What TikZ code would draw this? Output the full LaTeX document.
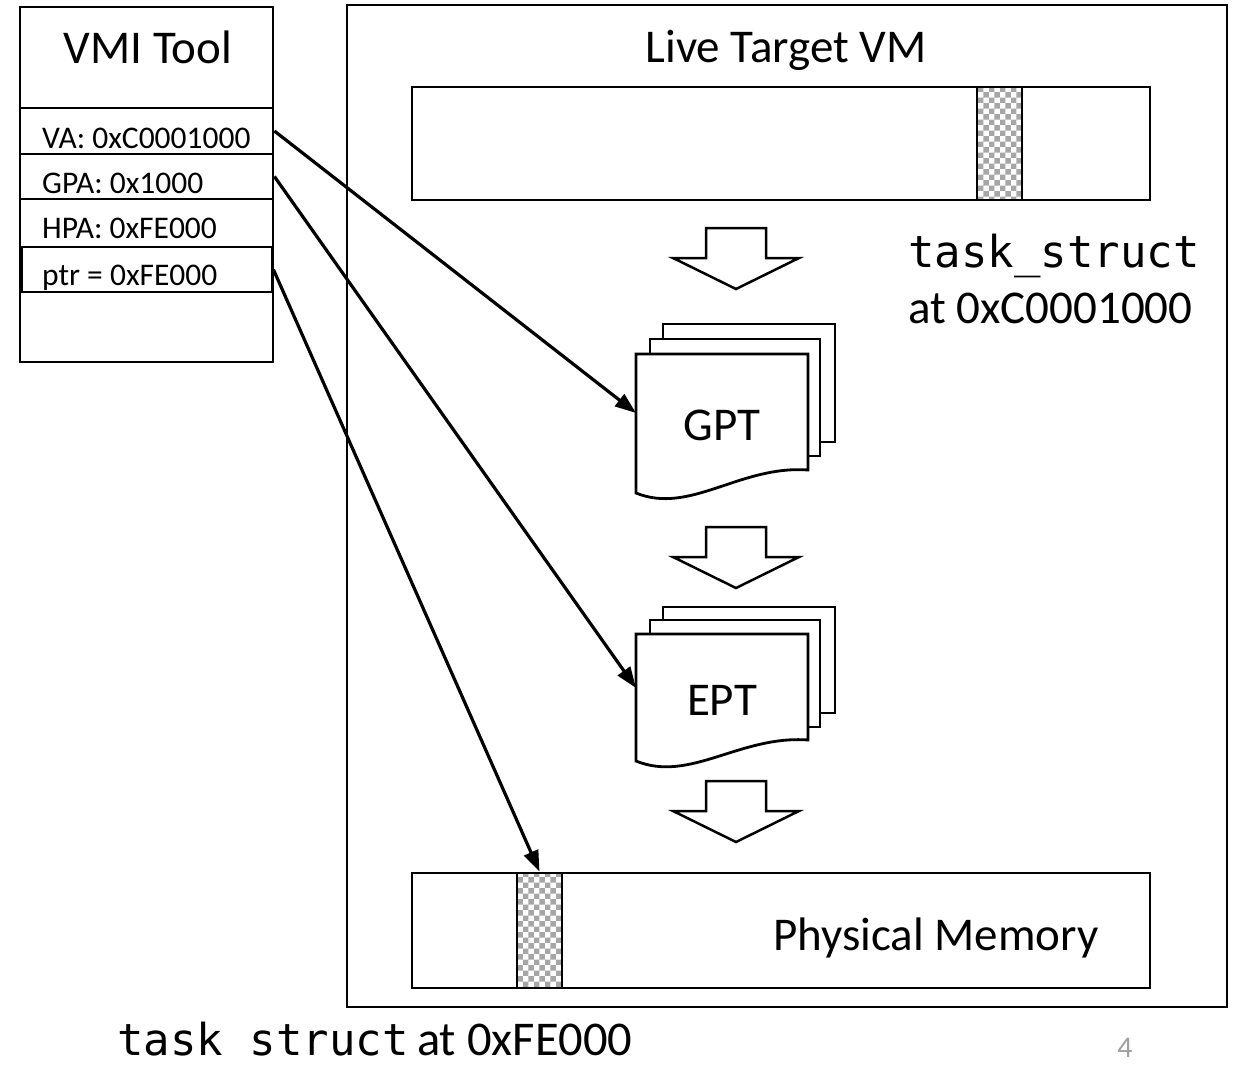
\documentclass[tikz,border=0pt]{standalone}
\usepackage{fontspec}
\setmainfont{Carlito}
\newfontfamily\codefont{DejaVu Sans Mono}
\usetikzlibrary{arrows.meta,patterns}

\tikzset{
  box/.style={draw,line width=2.8pt,fill=white,inner sep=0pt},
  rowbox/.style={box,minimum height=#1},
  hatch/.style={draw,line width=2.8pt,pattern=checkerboard,pattern color=gray!70,inner sep=0pt},
  page/.style={draw,line width=2.8pt,fill=white,line join=miter},
  title/.style={font=\fontsize{47}{56}\selectfont,anchor=base,inner sep=0pt},
  rowtext/.style={font=\fontsize{31.5}{37}\selectfont,anchor=base west,inner sep=0pt},
  code/.style={font=\codefont\fontsize{44}{52}\selectfont,anchor=base west,inner sep=0pt,text depth=0pt},
  plain/.style={font=\fontsize{47}{56}\selectfont,anchor=base west,inner sep=0pt,text depth=0pt},
  link/.style={line width=3.2pt,-{Triangle[length=21pt,width=15pt]}},
  downarr/.pic={
    \draw[line width=2.5pt,fill=white,line join=miter]
      (-30,0) -- (30,0) -- (30,30) -- (63,30) -- (0,61) -- (-63,30) -- (-30,30) -- cycle;
  }
}

\begin{document}
\begin{tikzpicture}[x=1pt,y=-1pt]
\useasboundingbox (0,0) rectangle (1235,1066);

% ---------- VMI tool panel ----------
\node[box,minimum width=253,minimum height=355] (tool) at (146.5,184.5) {};
\node[title] (tooltitle) at (148,63) {VMI Tool};
\node[rowbox=46,minimum width=253] (va)  at (146.5,131)   {};
\node[rowbox=45,minimum width=253] (gpa) at (146.5,176.5) {};
\node[rowbox=48,minimum width=253] (hpa) at (146.5,223)   {};
\node[rowbox=45,minimum width=250] (ptr) at (147,269.5)   {};
\node[rowtext] (vatxt)  at (42,148) {VA: 0xC0001000};
\node[rowtext] (gpatxt) at (42,193) {GPA: 0x1000};
\node[rowtext] (hpatxt) at (42,238) {HPA: 0xFE000};
\node[rowtext] (ptrtxt) at (42,285) {ptr = 0xFE000};

% ---------- target VM ----------
\node[box,minimum width=880,minimum height=1002] (vm) at (787,506) {};
\node[title] (vmtitle) at (786,62) {Live Target VM};

% virtual address space with the structure
\node[box,minimum width=738,minimum height=113] (vmem) at (781,143.5) {};
\node[hatch,minimum width=45,minimum height=113] (vstripe) at (999.5,143.5) {};
\node[code] (vtask) at (908,267) {task\_struct};
\node[plain] (vaddr) at (908,323) {at 0xC0001000};

% translation steps
\pic at (736,228) {downarr};
\pic at (736,527) {downarr};
\pic at (736,781) {downarr};

% guest page tables
\draw[page] (663,324) rectangle (835,442);
\draw[page] (650,339) rectangle (820,456);
\draw[page] (636,354) -- (808,354) -- (808,470)
  .. controls (740,465) and (690,515) .. (636,493) -- cycle;
\node[title] (gpt) at (722,440) {GPT};
\coordinate (gptin) at (636,413);

% extended page tables
\draw[page] (663,607) rectangle (835,713);
\draw[page] (650,620) rectangle (820,727);
\draw[page] (636,634) -- (808,634) -- (808,740)
  .. controls (740,735) and (690,783) .. (636,761) -- cycle;
\node[title] (ept) at (722,715) {EPT};
\coordinate (eptin) at (636,688);

% physical memory
\node[box,minimum width=738,minimum height=115] (pmem) at (781,930.5) {};
\node[hatch,minimum width=45,minimum height=115] (pstripe) at (539.5,930.5) {};
\node[title] (pmemtxt) at (936,950) {Physical Memory};

% ---------- lookups ----------
\draw[link] (va.east) -- (gptin);
\draw[link] (gpa.east) -- (eptin);
\draw[link] (ptr.east) -- (pstripe.north);

% ---------- footer ----------
\node[code] (ptask) at (117,1055) {task struct};
\node[plain,font=\fontsize{48.5}{58}\selectfont] (paddr) at (417,1055) {at 0xFE000};
\node[font=\fontsize{30}{36}\selectfont,text=gray!75,anchor=base,inner sep=0pt,text depth=0pt] (pageno) at (1125,1057) {4};
\end{tikzpicture}
\end{document}
